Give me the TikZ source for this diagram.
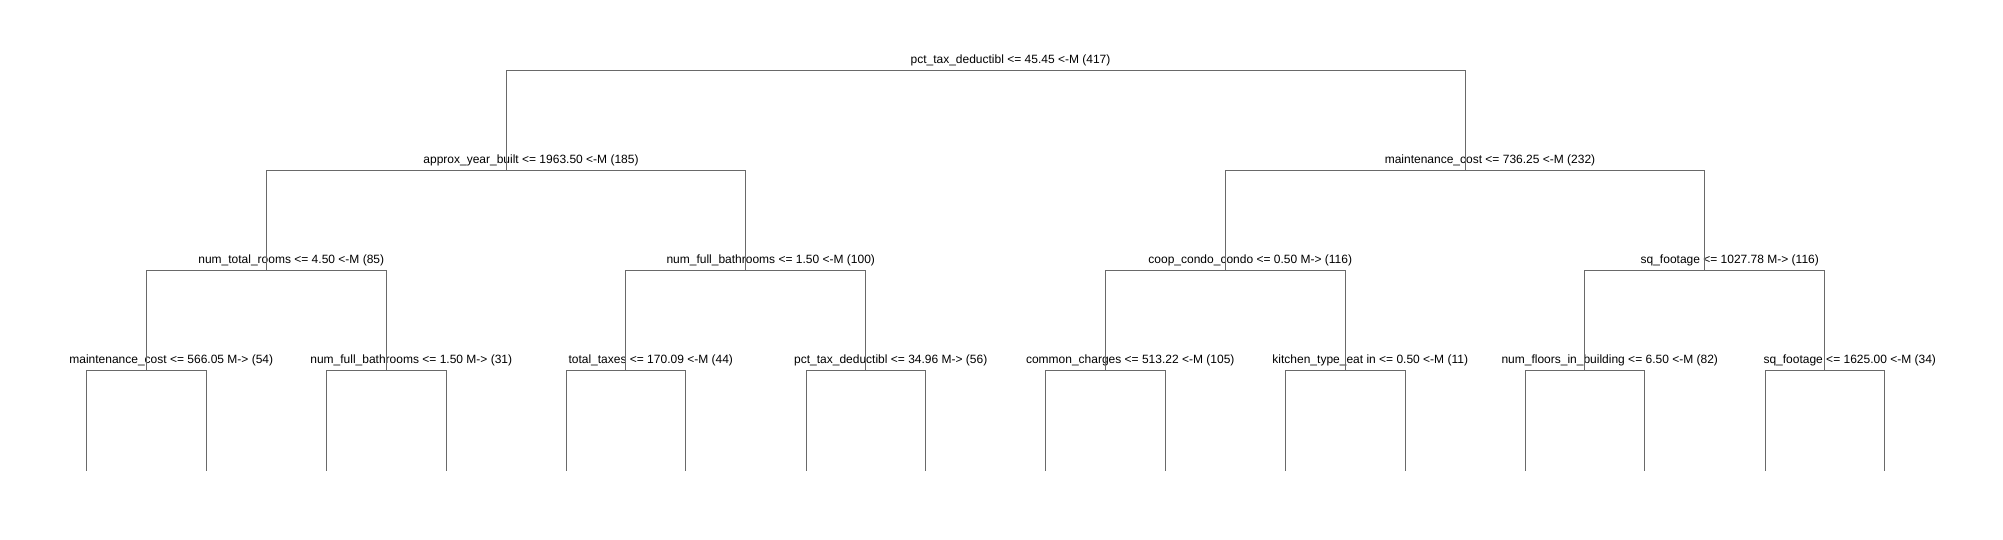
\documentclass[tikz,border=0pt]{standalone}
\usepackage{fontspec}
\setmainfont{Liberation Sans}
\definecolor{treeline}{RGB}{105,105,105}

\begin{document}
\begin{tikzpicture}[x=1pt,y=1pt,
    split/.style={inner sep=0pt,outer sep=0pt,minimum size=0pt},
    lbl/.style={anchor=base,xshift=25pt,yshift=7pt,inner sep=0pt,font=\fontsize{12}{14}\selectfont},
    cut/.style={split,label={[lbl]90:#1}},
    edge from parent/.style={draw=treeline,line width=1pt},
    edge from parent path={(\tikzparentnode.center) -| (\tikzchildnode.center)},
    level distance=100pt,
    level 1/.style={sibling distance=959pt},
    level 2/.style={sibling distance=479.5pt},
    level 3/.style={sibling distance=240pt},
    level 4/.style={sibling distance=119.5pt}]
  \useasboundingbox (0,0) rectangle (2003,-540);
  \node[cut={pct\_tax\_deductibl <= 45.45 <-M (417)}] (r) at (985.5,-70.5) {}
    child{
      node[cut={approx\_year\_built <= 1963.50 <-M (185)}] (rl) {}
      child{
        node[cut={num\_total\_rooms <= 4.50 <-M (85)}] (rll) {}
        child{
          node[cut={maintenance\_cost <= 566.05 M-> (54)}] (rlll) {}
          child{node[split] (rllll) {}}
          child{node[split] (rlllr) {}}
        }
        child{
          node[cut={num\_full\_bathrooms <= 1.50 M-> (31)}] (rllr) {}
          child{node[split] (rllrl) {}}
          child{node[split] (rllrr) {}}
        }
      }
      child{
        node[cut={num\_full\_bathrooms <= 1.50 <-M (100)}] (rlr) {}
        child{
          node[cut={total\_taxes <= 170.09 <-M (44)}] (rlrl) {}
          child{node[split] (rlrll) {}}
          child{node[split] (rlrlr) {}}
        }
        child{
          node[cut={pct\_tax\_deductibl <= 34.96 M-> (56)}] (rlrr) {}
          child{node[split] (rlrrl) {}}
          child{node[split] (rlrrr) {}}
        }
      }
    }
    child{
      node[cut={maintenance\_cost <= 736.25 <-M (232)}] (rr) {}
      child{
        node[cut={coop\_condo\_condo <= 0.50 M-> (116)}] (rrl) {}
        child{
          node[cut={common\_charges <= 513.22 <-M (105)}] (rrll) {}
          child{node[split] (rrlll) {}}
          child{node[split] (rrllr) {}}
        }
        child{
          node[cut={kitchen\_type\_eat in <= 0.50 <-M (11)}] (rrlr) {}
          child{node[split] (rrlrl) {}}
          child{node[split] (rrlrr) {}}
        }
      }
      child{
        node[cut={sq\_footage <= 1027.78 M-> (116)}] (rrr) {}
        child{
          node[cut={num\_floors\_in\_building <= 6.50 <-M (82)}] (rrrl) {}
          child{node[split] (rrrll) {}}
          child{node[split] (rrrlr) {}}
        }
        child{
          node[cut={sq\_footage <= 1625.00 <-M (34)}] (rrrr) {}
          child{node[split] (rrrrl) {}}
          child{node[split] (rrrrr) {}}
        }
      }
    };
\end{tikzpicture}
\end{document}
